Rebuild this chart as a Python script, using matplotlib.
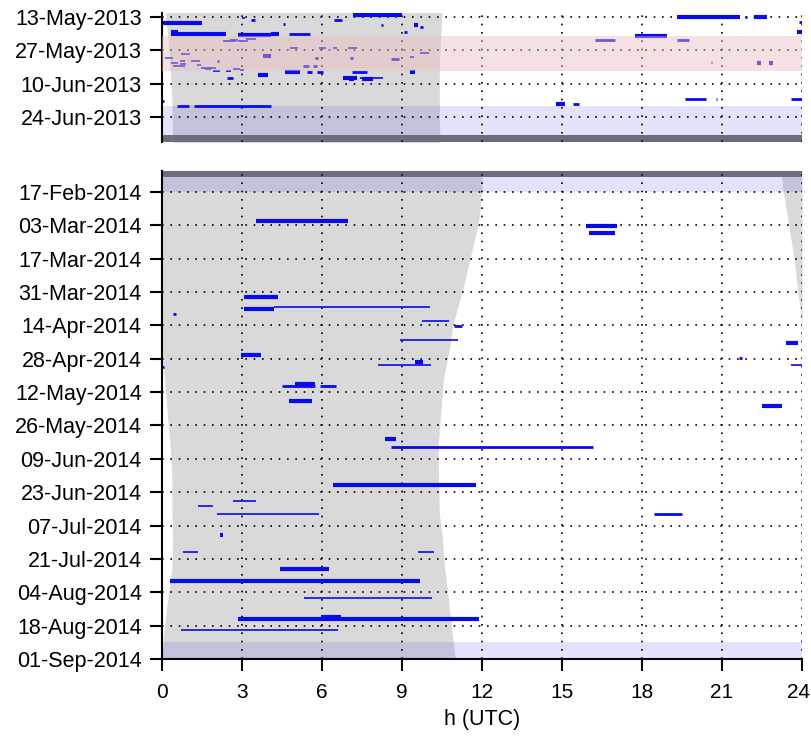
import numpy as np
import pandas as pd
import matplotlib
matplotlib.use('Agg')
import matplotlib.pyplot as plt
import matplotlib.dates as mdates
from matplotlib.transforms import ScaledTranslation

plt.rcParams['font.family'] = ['Liberation Sans', 'DejaVu Sans']
plt.rcParams['font.size'] = 15.5

# ---------------- 2013 season ----------------
# observation segments: date, start hour, end hour, kind (3 long, 2 medium, 1 short)
s13_date = ['2013-05-12 00:00', '2013-05-15 16:00', '2013-05-13 10:00', '2013-05-14 08:00',
            '2013-05-14 08:00', '2013-05-16 05:00', '2013-05-16 00:00', '2013-05-16 05:00',
            '2013-05-17 05:00', '2013-05-19 08:00', '2013-05-20 03:00', '2013-05-20 14:00',
            '2013-05-20 03:00', '2013-05-20 00:00', '2013-05-13 00:00', '2013-05-13 04:00',
            '2013-05-13 00:00', '2013-05-15 06:00', '2013-05-19 10:00', '2013-05-21 00:00',
            '2013-05-22 12:00', '2013-05-22 12:00', '2013-06-01 00:00', '2013-06-01 06:00',
            '2013-06-01 06:00', '2013-06-16 12:00', '2013-06-16 12:00', '2013-06-16 12:00',
            '2013-06-18 16:00', '2013-06-18 16:00', '2013-06-19 12:00', '2013-06-19 12:00',
            '2013-06-17 06:00', '2013-06-05 06:00', '2013-06-05 06:00', '2013-06-05 06:00',
            '2013-06-05 06:00', '2013-06-05 06:00', '2013-06-06 10:00', '2013-06-07 14:00',
            '2013-06-07 14:00', '2013-06-07 14:00', '2013-06-08 06:00', '2013-06-08 06:00',
            '2013-05-19 08:00',
            '2013-05-23 04:00', '2013-05-22 12:00', '2013-05-22 06:00', '2013-05-23 04:00',
            '2013-05-26 00:00', '2013-05-26 00:00', '2013-05-26 00:00', '2013-05-26 00:00',
            '2013-05-28 12:00', '2013-05-29 08:00', '2013-05-30 06:00', '2013-05-30 06:00',
            '2013-05-30 06:00', '2013-05-30 14:00', '2013-05-30 00:00', '2013-05-28 00:00',
            '2013-05-31 10:00', '2013-05-31 10:00', '2013-05-31 14:00', '2013-06-01 06:00',
            '2013-06-01 16:00', '2013-06-02 06:00', '2013-06-02 12:00', '2013-06-02 12:00',
            '2013-06-02 16:00', '2013-06-03 10:00', '2013-06-03 20:00', '2013-06-04 14:00',
            '2013-06-04 14:00', '2013-06-03 20:00', '2013-06-04 06:00']
s13_t0 = [7.16, 0.0, 3.0, 3.35, 6.45, 8.22, 4.55, 9.45, 9.67, 9.07, 0.35, 2.85, 4.1, 4.76,
          19.3, 22.2, 21.88, 23.9, 23.8, 17.73, 16.24, 19.3, 20.57, 22.3, 22.75, 19.6, 20.77,
          23.6, 14.77, 15.4, 0.56, 1.2, 0.0, 4.6, 5.44, 5.8, 7.12, 9.3, 3.6, 2.44, 6.8, 7.42,
          7.0, 7.5, 0.35,
          2.29, 2.55, 3.15, 2.85, 4.8, 5.9, 6.4, 6.97, 0.71, 3.79, 0.11, 5.75, 7.05, 8.6, 9.3,
          9.67, 0.67, 2.06, 1.09, 0.34, 0.67, 1.31, 5.3, 5.67, 0.41, 1.46, 1.61, 1.91, 2.4,
          2.66, 2.92]
s13_t1 = [9.0, 1.5, 3.1, 3.5, 6.75, 8.28, 4.62, 9.6, 9.8, 9.2, 2.4, 4.1, 4.4, 5.55,
          21.67, 22.7, 21.95, 24.0, 24.0, 18.93, 17.0, 19.76, 20.63, 22.45, 22.9, 20.4, 20.83,
          24.0, 15.1, 15.65, 1.0, 4.1, 0.08, 5.17, 5.62, 6.05, 7.7, 9.5, 3.97, 2.66, 7.3, 8.3,
          7.2, 7.9, 0.6,
          2.77, 2.85, 3.52, 3.22, 5.1, 6.15, 6.56, 7.3, 1.05, 4.09, 0.41, 5.85, 7.15, 8.9, 9.45,
          10.0, 0.86, 2.14, 1.42, 0.6, 0.9, 1.46, 5.5, 5.8, 0.86, 2.02, 1.84, 2.17, 2.59,
          2.92, 3.07]
s13_kind = [3, 3, 1, 2, 2, 2, 2, 3, 2, 2, 3, 3, 3, 2, 3, 3, 2, 2, 3, 3, 2, 2, 2, 3, 3, 2, 2,
            2, 3, 2, 2, 2, 2, 3, 2, 2, 2, 3, 3, 2, 3, 1, 3, 3, 3,
            1, 1, 1, 1, 1, 1, 1, 1, 1, 3, 1, 2, 2, 2, 1, 1, 1, 2, 1, 1, 1, 1, 2, 2, 1, 1, 1,
            1, 1, 1, 1]

# daylight (grey) band
day13_date = ['2013-05-11', '2013-05-21', '2013-06-03', '2013-06-17', '2013-07-05']
day13_rise = [0.12, 0.22, 0.3, 0.37, 0.4]
day13_set = [10.5, 10.45, 10.4, 10.4, 10.42]

# ---------------- 2014 season ----------------
s14_date = ['2014-03-01 02:00', '2014-03-03 05:00', '2014-03-06 02:00', '2014-04-02 05:00',
            '2014-04-07 07:00', '2014-04-06 05:00', '2014-04-09 07:00', '2014-04-12 05:00',
            '2014-04-14 07:00', '2014-04-20 05:00', '2014-04-21 07:00', '2014-04-27 17:00',
            '2014-04-26 12:00', '2014-04-30 14:00', '2014-04-29 10:00', '2014-05-01 12:00',
            '2014-04-30 14:00', '2014-05-09 12:00', '2014-05-08 17:00', '2014-05-09 12:00',
            '2014-05-15 17:00', '2014-05-17 19:00', '2014-05-31 19:00', '2014-06-03 22:00',
            '2014-06-20 00:00', '2014-06-28 22:00', '2014-06-26 19:00', '2014-07-02 00:00',
            '2014-07-02 00:00', '2014-07-11 00:00', '2014-07-18 02:00', '2014-07-18 02:00',
            '2014-07-25 02:00', '2014-07-30 07:00', '2014-08-06 07:00', '2014-08-15 10:00',
            '2014-08-14 14:00', '2014-08-20 00:00']
s14_t0 = [3.52, 15.9, 16.0, 3.07, 3.07, 4.2, 0.42, 9.75, 10.95, 8.92, 23.4, 21.65, 2.96, 8.1,
          9.5, 0.0, 23.6, 4.5, 4.99, 5.92, 4.76, 22.5, 8.36, 8.58, 6.4, 1.36, 2.68, 2.07,
          18.46, 2.17, 0.78, 9.6, 4.43, 0.3, 5.33, 2.86, 5.96, 0.7]
s14_t1 = [6.97, 17.06, 17.0, 4.36, 4.2, 10.05, 0.52, 10.76, 11.25, 11.1, 23.85, 21.75, 3.71,
          10.1, 9.8, 0.06, 24.0, 5.74, 5.74, 6.52, 5.62, 23.25, 8.77, 16.16, 11.77, 1.9, 3.52,
          5.89, 19.5, 2.27, 1.36, 10.2, 6.27, 9.67, 10.13, 11.9, 6.7, 6.6]
s14_kind = [3, 3, 3, 3, 3, 1, 2, 1, 2, 1, 3, 2, 3, 1, 3, 2, 1, 2, 3, 2, 3, 3, 3, 2, 3, 1, 1,
            1, 2, 3, 1, 1, 3, 3, 1, 3, 3, 1]

day14_date = ['2014-02-08', '2014-02-17', '2014-03-03', '2014-03-17', '2014-03-31',
              '2014-04-14', '2014-04-23', '2014-04-28', '2014-05-07', '2014-05-21',
              '2014-06-03', '2014-06-17', '2014-07-02', '2014-07-11', '2014-07-25',
              '2014-08-08', '2014-08-23', '2014-09-01']
day14_rise = [0, 0, 0, 0, 0, 0, 0, 0.02, 0.1, 0.2, 0.3, 0.37, 0.37, 0.4, 0.37, 0.2, 0.05, 0.0]
day14_set = [12.0, 12.0, 11.85, 11.55, 11.25, 10.9, 10.8, 10.7, 10.55, 10.45, 10.36, 10.37,
             10.4, 10.5, 10.6, 10.75, 10.9, 11.0]
eve14_date = ['2014-02-08', '2014-02-17', '2014-03-03', '2014-03-17', '2014-03-31', '2014-04-14']
eve14_rise = [23.2, 23.3, 23.5, 23.7, 23.85, 24.0]

# shaded periods
pink13 = ('2013-05-21 00:00', '2013-06-04 17:00')
lav13 = ('2013-06-19 10:00', '2013-07-01 14:00')
dark13 = ('2013-07-01 14:00', '2013-07-04 08:00')
dark14 = ('2014-02-08 10:00', '2014-02-10 17:00')
lav14a = ('2014-02-10 17:00', '2014-02-17 00:00')
lav14b = ('2014-08-25 00:00', '2014-09-01 00:00')

ticks13 = ['2013-05-13', '2013-05-27', '2013-06-10', '2013-06-24']
ticks14 = [str(d.date()) for d in pd.date_range('2014-02-17', '2014-09-01', freq='14D')]
lim13 = ('2013-07-04 08:00', '2013-05-11 08:00')
lim14 = ('2014-09-01 00:00', '2014-02-08 10:00')


def dn(x):
    return mdates.date2num(pd.to_datetime(x).to_pydatetime())


LW = {1: 1.2, 2: 2.0, 3: 3.0}
BLUE = '#0a0aef'
GREY = '#d9d9d9'
LAV = (0.25, 0.25, 0.93)


def setup(ax, ticks, lim, show_x):
    ax.set_xlim(0, 24)
    ax.set_xticks(range(0, 25, 3))
    ax.set_ylim(dn(lim[0]), dn(lim[1]))
    ax.set_yticks(dn(ticks))
    ax.yaxis.set_major_formatter(mdates.DateFormatter('%d-%b-%Y'))
    ax.set_axisbelow('line')
    ax.grid(True, color='k', linestyle=(0, (1, 4)), linewidth=1.2)
    for s in ['top', 'right']:
        ax.spines[s].set_visible(False)
    ax.spines['left'].set_linewidth(1.5)
    ax.spines['bottom'].set_linewidth(1.5)
    ax.tick_params(axis='y', direction='out', length=8.5, width=1.5, pad=6)
    if show_x:
        ax.tick_params(axis='x', direction='out', length=8.5, width=1.5, pad=9,
                       labelsize=15)
    else:
        ax.spines['bottom'].set_visible(False)
        ax.tick_params(axis='x', bottom=False, labelbottom=False)


fig = plt.figure(figsize=(8.12, 7.39), dpi=100)
ax1 = fig.add_axes([0.1995, 0.8085, 0.7882, 0.1739])
ax2 = fig.add_axes([0.1995, 0.1083, 0.7882, 0.6597])

# 2013 panel
setup(ax1, ticks13, lim13, False)
ax1.fill_betweenx(dn(day13_date), day13_rise, day13_set, color=GREY, lw=0, zorder=0.5)
ax1.axhspan(dn(lav13[0]), dn(lav13[1]), color=LAV, alpha=0.15, lw=0, zorder=1.1)
ax1.axhspan(dn(dark13[0]), dn(dark13[1]), color='#6b6d80', lw=0, zorder=1.2)
ax1.hlines(dn(s13_date), s13_t0, s13_t1, colors=BLUE,
           linewidths=[LW[k] for k in s13_kind], zorder=2)
ax1.axhspan(dn(pink13[0]), dn(pink13[1]), color=(0.92, 0.74, 0.76), alpha=0.45, lw=0, zorder=3)

# 2014 panel
setup(ax2, ticks14, lim14, True)
ax2.fill_betweenx(dn(day14_date), day14_rise, day14_set, color=GREY, lw=0, zorder=0.5)
ax2.fill_betweenx(dn(eve14_date), eve14_rise, 24, color=GREY, lw=0, zorder=0.5)
ax2.axhspan(dn(lav14a[0]), dn(lav14a[1]), color=LAV, alpha=0.15, lw=0, zorder=1.1)
ax2.axhspan(dn(lav14b[0]), dn(lav14b[1]), color=LAV, alpha=0.15, lw=0, zorder=1.1)
ax2.axhspan(dn(dark14[0]), dn(dark14[1]), color='#6b6d80', lw=0, zorder=1.2)
ax2.hlines(dn(s14_date), s14_t0, s14_t1, colors=BLUE,
           linewidths=[LW[k] for k in s14_kind], zorder=2)
ax2.set_xlabel('h (UTC)', labelpad=5)

# keep the last hour label inside the canvas
last = ax2.get_xticklabels()[-1]
last.set_transform(last.get_transform() + ScaledTranslation(-0.035, 0, fig.dpi_scale_trans))

fig.savefig('out.png', dpi=100)
